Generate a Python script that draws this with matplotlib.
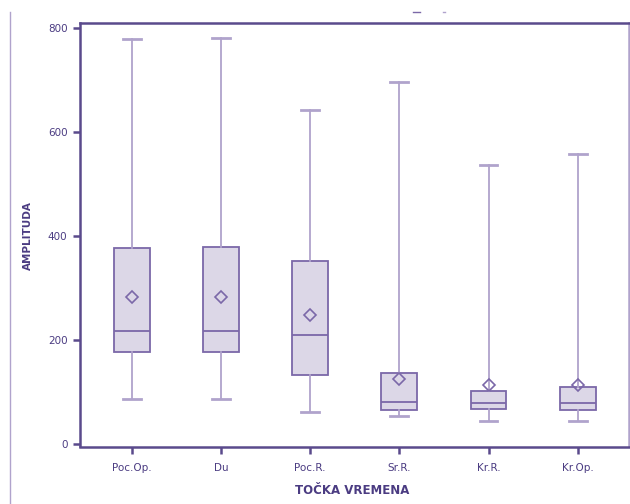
import matplotlib
matplotlib.use("Agg")
import matplotlib.pyplot as plt
from matplotlib.lines import Line2D

categories = ["Poc.Op.", "Du", "Poc.R.", "Sr.R.", "Kr.R.", "Kr.Op."]
whislo = [88, 88, 62, 55, 45, 45]
q1 = [178, 178, 133, 66, 69, 66]
med = [219, 219, 210, 81, 79, 79]
q3 = [377, 380, 353, 138, 102, 110]
whishi = [780, 781, 643, 697, 538, 558]
means = [283, 283, 248, 126, 114, 114]
yticks = [0, 200, 400, 600, 800]

dark = "#5a4a8c"
line = "#7b68a8"
light = "#b0a3cc"
fill = "#dcd7e7"
text = "#4b3c82"

fig = plt.figure(figsize=(6.3, 5.04), dpi=100)
ax = fig.add_axes([80/630, 1-446.5/504, 549/630, (446.5-22.7)/504])

stats = []
for i, c in enumerate(categories):
    stats.append(dict(label=c, whislo=whislo[i], q1=q1[i], med=med[i], q3=q3[i],
                      whishi=whishi[i], mean=means[i], fliers=[]))

ax.bxp(stats, positions=range(len(categories)), widths=0.40, capwidths=0.20,
       showmeans=True, patch_artist=True, manage_ticks=False,
       boxprops=dict(facecolor=fill, edgecolor=line, linewidth=1.3),
       medianprops=dict(color=line, linewidth=1.3),
       whiskerprops=dict(color=light, linewidth=1.3),
       capprops=dict(color=light, linewidth=2.0),
       meanprops=dict(marker="D", markerfacecolor="none", markeredgecolor=line,
                      markersize=6.5, markeredgewidth=1.2))

ax.set_xlim(-0.58, 5.575)
ax.set_ylim(-4, 811)
ax.set_xticks(range(len(categories)))
ax.set_xticklabels(categories)
ax.set_yticks(yticks)
ax.set_yticklabels([str(v) for v in yticks])
for s in ax.spines.values():
    s.set_color(dark)
    s.set_linewidth(1.8)
ax.spines["right"].set_color(light)
ax.tick_params(axis="both", direction="out", length=5, width=1.8, color=dark,
               labelcolor=text, labelsize=7.5)
ax.tick_params(axis="x", pad=7)
ax.tick_params(axis="y", pad=4)
ax.set_ylabel("AMPLITUDA", fontsize=7.5, fontweight="bold", color=text)
ax.yaxis.set_label_coords((28-80)/549, (446.5-236)/423.8)
ax.set_xlabel("TOČKA VREMENA", fontsize=8.5, fontweight="bold", color=text)
ax.xaxis.set_label_coords((352-80)/549, (446.5-490)/423.8)
ax.xaxis.label.set_verticalalignment("center")
ax.yaxis.label.set_verticalalignment("center")

fig.add_artist(Line2D([9.5/630, 9.5/630], [0, 1-12/504], color=light, linewidth=1.0))
fig.add_artist(Line2D([413/630, 420/630], [1-12/504, 1-12/504], color=line, linewidth=1.0))
fig.add_artist(Line2D([443/630, 444.5/630], [1-12/504, 1-12/504], color=light, linewidth=1.0))

fig.savefig("out.png", dpi=100)
